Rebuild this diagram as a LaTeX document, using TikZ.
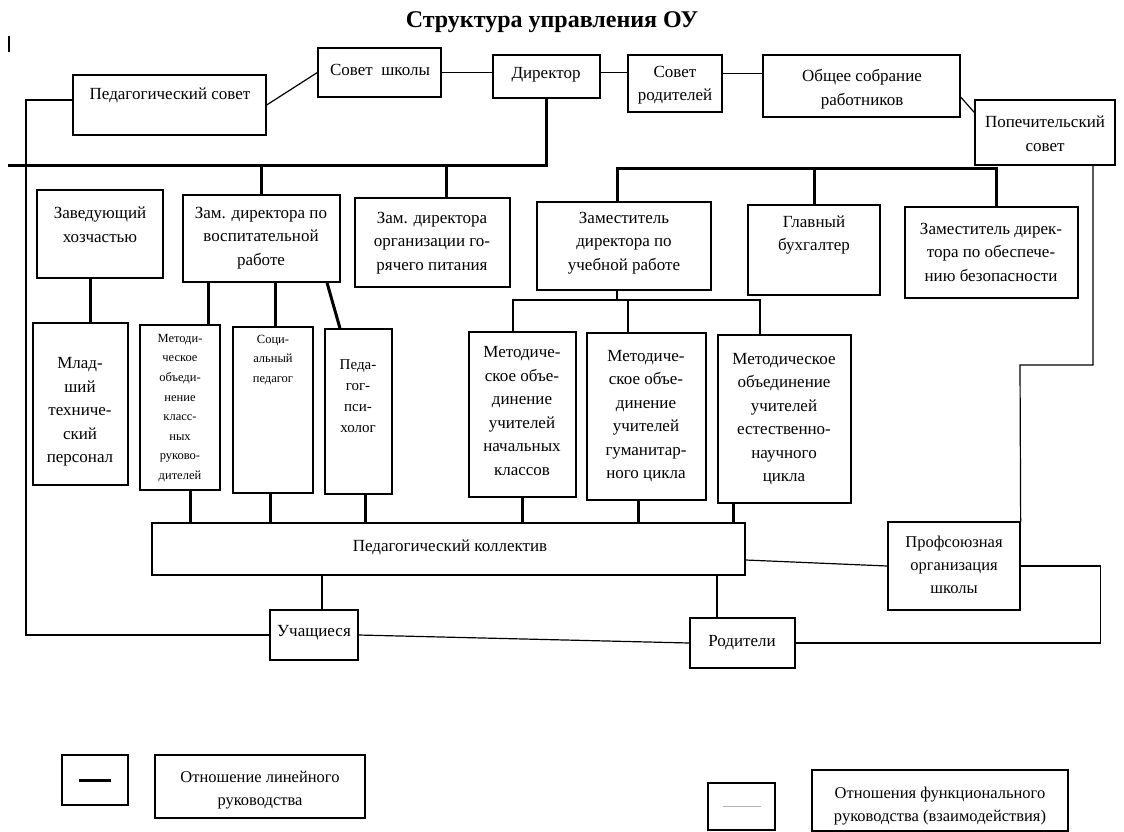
\documentclass[tikz,border=0pt]{standalone}
\usepackage{fontspec}
\setmainfont{Liberation Serif}
\usetikzlibrary{fit}
\begin{document}
\begin{tikzpicture}[x=1pt,y=-1pt,
  box/.style={draw, line width=1.3pt, inner sep=0pt, rectangle},
  txt/.style={font=\fontsize{17}{23.5}\selectfont, align=center, inner sep=0pt},
  sm/.style={font=\fontsize{12.5}{19.6}\selectfont, align=center, inner sep=0pt},
  md/.style={font=\fontsize{16.5}{23}\selectfont, align=center, inner sep=0pt},
  heavy/.style={line width=3pt},
  light/.style={line width=1.2pt}]
\useasboundingbox (0,0) rectangle (1124,831);

\node[font=\bfseries\fontsize{24}{28}\selectfont] (title) at (552,22) {Структура управления ОУ};
\draw[line width=2pt] (9,36) -- (9,52);

% top row
\node[box, fit={(73,75) (266,135)}] (ps) {};
\node[txt] (pst) at (170,95) {Педагогический совет};
\node[box, fit={(318,48) (441,97)}] (ss) {};
\node[txt] (sst) at (380,70) {Совет\ \ школы};
\node[box, fit={(493,55) (600,98)}] (dir) {};
\node[txt] (dirt) at (546,75) {Директор};
\node[box, fit={(628,55) (722,112)}] (sr) {};
\node[txt] (srt) at (675,85) {Совет\\родителей};
\node[box, fit={(763,55) (960,117)}] (os) {};
\node[txt] (ost) at (862,89) {Общее собрание\\работников};
\node[box, fit={(975,100) (1115,165)}] (pop) {};
\node[txt] (popt) at (1045,134) {Попечительский\\совет};

% second row
\node[box, fit={(37,190) (163,278)}] (zh) {};
\node[txt] (zht) at (100,225) {Заведующий\\хозчастью};
\node[box, fit={(183,195) (340,282)}] (zvr) {};
\node[txt] (zvrt) at (261,238) {Зам. директора по\\воспитательной\\работе};
\node[box, fit={(355,198) (510,287)}] (zp) {};
\node[txt] (zpt) at (432,243) {Зам. директора\\организации го-\\рячего питания};
\node[box, fit={(537,202) (711,290)}] (zu) {};
\node[txt] (zut) at (624,243) {Заместитель\\директора по\\учебной работе};
\node[box, fit={(748,205) (880,295)}] (gb) {};
\node[txt] (gbt) at (814,235) {Главный\\бухгалтер};
\node[box, fit={(905,207) (1078,298)}] (zb) {};
\node[txt] (zbt) at (991,252) {Заместитель дирек-\\тора по обеспече-\\нию безопасности};

% third row
\node[box, fit={(33,323) (128,485)}] (mtp) {};
\node[txt] (mtpt) at (80,412) {Млад-\\ший\\техниче-\\ский\\персонал};
\node[box, fit={(140,325) (220,490)}] (mok) {};
\node[sm] (mokt) at (180,408) {Методи-\\ческое\\объеди-\\нение\\класс-\\ных\\руково-\\дителей};
\node[box, fit={(233,327) (313,493)}] (sp) {};
\node[sm] (spt) at (273,360) {Соци-\\альный\\педагог};
\node[box, fit={(325,329) (392,494)}] (pp) {};
\node[font=\fontsize{15}{21}\selectfont, align=center, inner sep=0pt] (ppt) at (358,396) {Педа-\\гог-\\пси-\\холог};
\node[box, fit={(469,332) (576,497)}] (mo1) {};
\node[txt] (mo1t) at (522,411) {Методиче-\\ское объе-\\динение\\учителей\\начальных\\классов};
\node[box, fit={(587,333) (706,500)}] (mo2) {};
\node[txt] (mo2t) at (646,416) {Методиче-\\ское объе-\\динение\\учителей\\гуманитар-\\ного цикла};
\node[box, fit={(718,335) (851,503)}] (mo3) {};
\node[txt] (mo3t) at (784,419) {Методическое\\объединение\\учителей\\естественно-\\научного\\цикла};

% bottom
\node[box, fit={(152,523) (745,575)}] (pk) {};
\node[txt] (pkt) at (450,547) {Педагогический коллектив};
\node[box, fit={(888,522) (1020,610)}] (prof) {};
\node[md] (proft) at (954,565) {Профсоюзная\\организация\\школы};
\node[box, fit={(270,610) (358,660)}] (uch) {};
\node[txt] (ucht) at (314,633) {Учащиеся};
\node[box, fit={(690,618) (795,668)}] (rod) {};
\node[txt] (rodt) at (742,643) {Родители};

% legend
\node[box, fit={(62,755) (128,805)}] (lg1) {};
\draw[heavy] ([xshift=-16pt]lg1.center) -- ([xshift=16pt]lg1.center);
\node[box, fit={(155,755) (365,818)}] (lt1) {};
\node[md] (lt1t) at (260,790) {Отношение линейного\\руководства};
\node[box, fit={(708,783) (775,830)}] (lg2) {};
\draw[line width=1pt, gray!60] ([xshift=-19pt]lg2.center) -- ([xshift=19pt]lg2.center);
\node[box, fit={(812,770) (1068,831)}] (lt2) {};
\node[md] (lt2t) at (940,806) {Отношения функционального\\руководства (взаимодействия)};

% coordinates
\coordinate (lb) at (8,165);
\coordinate (rb) at (0,168);
\coordinate (tb) at (0,300);
\coordinate (pj) at (1020,365);
\coordinate (lf) at (26,635);

% functional (thin) links
\draw[light] (ps.east) -- (ss.west);
\draw[light] (ss.east) -- (ss.east -| dir.west);
\draw[light] ([yshift=4pt]dir.east) -- ([yshift=4pt]dir.east -| sr.west);
\draw[light] ([yshift=10pt]sr.east) -- ([yshift=10pt]sr.east -| os.west);
\draw[light] ([yshift=-11pt]os.east) -- ([yshift=20pt]pop.west);
\draw[light] ([yshift=5pt]ps.west) -| (lf) -- (uch.west);
\draw[light] ([xshift=48pt]pop.south) |- (pj) -- (prof.north east);
\draw[light] ([xshift=-7pt]zu.south) -- ([xshift=-7pt]zu.south |- tb);
\draw[light] ([xshift=-9.5pt]mo1.north) |- ([xshift=-24.5pt]mo3.north |- tb) -- ([xshift=-24.5pt]mo3.north);
\draw[light] ([xshift=-18.5pt]mo2.north) -- ([xshift=-18.5pt]mo2.north |- tb);
\draw[light] ([xshift=8pt]uch.north) -- ([xshift=8pt]uch.north |- pk.south);
\draw[light] ([xshift=-25.5pt]rod.north) -- ([xshift=-25.5pt]rod.north |- pk.south);
\draw[light] (uch.east) -- (rod.west);
\draw[light] (rod.east) -| ([xshift=80pt]prof.east) -- (prof.east);
\draw[light] ([yshift=-11pt]pk.east) -- (prof.west);

% linear (thick) links
\draw[heavy] (dir.south) -- (dir.south |- lb) -- (lb);
\draw[heavy] (zvr.north) -- (zvr.north |- lb);
\draw[heavy] ([xshift=14pt]zp.north) -- ([xshift=14pt]zp.north |- lb);
\draw[heavy] ([xshift=-7pt]zu.north) -- ([xshift=-7pt]zu.north |- rb) -| ([xshift=5pt]zb.north);
\draw[heavy] (gb.north) -- (gb.north |- rb);
\draw[heavy] ([xshift=-10pt]zh.south) -- ([xshift=-10pt]zh.south |- mtp.north);
\draw[heavy] ([xshift=28pt]mok.north) -- ([xshift=28pt]mok.north |- zvr.south);
\draw[heavy] ([xshift=2pt]sp.north) -- ([xshift=2pt]sp.north |- zvr.south);
\draw[heavy] ([xshift=65.5pt]zvr.south) -- ([xshift=-18.5pt]pp.north);
\draw[heavy] ([xshift=10pt]mok.south) -- ([xshift=10pt]mok.south |- pk.north);
\draw[heavy] ([xshift=-3pt]sp.south) -- ([xshift=-3pt]sp.south |- pk.north);
\draw[heavy] ([xshift=6.5pt]pp.south) -- ([xshift=6.5pt]pp.south |- pk.north);
\draw[heavy] (mo1.south) -- (mo1.south |- pk.north);
\draw[heavy] ([xshift=-8.5pt]mo2.south) -- ([xshift=-8.5pt]mo2.south |- pk.north);
\draw[heavy] ([xshift=-51.5pt]mo3.south) -- ([xshift=-51.5pt]mo3.south |- pk.north);
\end{tikzpicture}
\end{document}
